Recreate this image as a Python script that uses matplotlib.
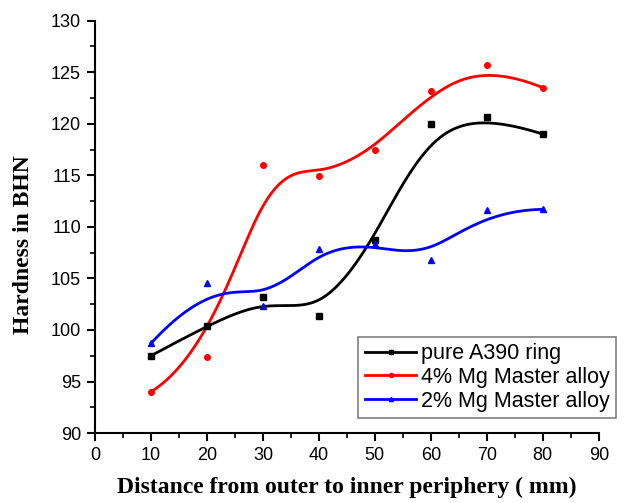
import numpy as np
import matplotlib
matplotlib.use("Agg")
import matplotlib.pyplot as plt
from matplotlib.ticker import MultipleLocator
from matplotlib.lines import Line2D

distance = [10, 20, 30, 40, 50, 60, 70, 80]
pure_a390 = [97.5, 100.4, 103.2, 101.4, 108.7, 120.0, 120.7, 119.0]
mg4 = [94.0, 97.4, 116.0, 114.9, 117.5, 123.2, 125.7, 123.5]
mg2 = [98.7, 104.6, 102.3, 107.9, 108.3, 106.8, 111.6, 111.7]
labels = ["pure A390 ring", "4% Mg Master alloy", "2% Mg Master alloy"]


def bspline(xs, ys, k=3, num=400):
    P = np.column_stack([xs, ys]).astype(float)
    n = len(P)
    inner = np.arange(1, n - k)
    knots = np.concatenate([np.zeros(k + 1), inner, np.full(k + 1, n - k)])
    t = np.linspace(0, n - k, num)
    t[-1] -= 1e-9

    def basis(i, p, tt):
        if p == 0:
            return ((knots[i] <= tt) & (tt < knots[i + 1])).astype(float)
        a = np.zeros_like(tt)
        d1 = knots[i + p] - knots[i]
        if d1 > 0:
            a = a + (tt - knots[i]) / d1 * basis(i, p - 1, tt)
        d2 = knots[i + p + 1] - knots[i + 1]
        if d2 > 0:
            a = a + (knots[i + p + 1] - tt) / d2 * basis(i + 1, p - 1, tt)
        return a

    B = np.array([basis(i, k, t) for i in range(n)])
    C = B.T @ P
    return C[:, 0], C[:, 1]


plt.rcParams['font.family'] = ['Liberation Sans', 'DejaVu Sans']
fig = plt.figure(figsize=(6.25, 5.03), dpi=100)
ax = fig.add_axes([0.152, 0.139, 0.806, 0.82])

series = [(pure_a390, 'black', 's'), (mg4, 'red', 'o'), (mg2, 'blue', '^')]
for (vals, col, mk), lab in zip(series, labels):
    sx, sy = bspline(distance, vals)
    ax.plot(sx, sy, color=col, lw=2.0, zorder=2)
    ax.plot(distance, vals, ls='none', marker=mk, color=col, ms=4, zorder=3)

handles = [Line2D([0, 0.5, 1], [0, 0, 0], color=c, lw=2, marker=m, ms=3, markevery=[1])
           for _, c, m in series]
leg = ax.legend(handles, labels, loc='lower right',
                bbox_to_anchor=(616 / 625, 1 - 418 / 503), bbox_transform=fig.transFigure,
                fontsize=15.5, frameon=True, fancybox=False, framealpha=1,
                edgecolor='#808080', handlelength=2.4, handletextpad=0.2,
                labelspacing=0.12, borderpad=0.3, borderaxespad=0)
leg.get_frame().set_linewidth(1.2)

ax.set_xlim(0, 90)
ax.set_ylim(90, 130)
ax.xaxis.set_major_locator(MultipleLocator(10))
ax.xaxis.set_minor_locator(MultipleLocator(5))
ax.yaxis.set_major_locator(MultipleLocator(5))
ax.yaxis.set_minor_locator(MultipleLocator(2.5))
for s in ['top', 'right']:
    ax.spines[s].set_visible(False)
for s in ['left', 'bottom']:
    ax.spines[s].set_linewidth(1.5)
ax.tick_params(which='major', direction='out', length=6, width=1.5, labelsize=13, pad=4)
ax.tick_params(which='minor', direction='out', length=3.5, width=1.2)

ax.set_xlabel("Distance from outer to inner periphery ( mm)", family=['Liberation Serif'],
              fontweight='bold', fontsize=17, labelpad=9)
ax.set_ylabel("Hardness in BHN", family=['Liberation Serif'],
              fontweight='bold', fontsize=17)
ax.yaxis.set_label_coords(-0.122, 0.458)

fig.savefig("out.png", dpi=100)
